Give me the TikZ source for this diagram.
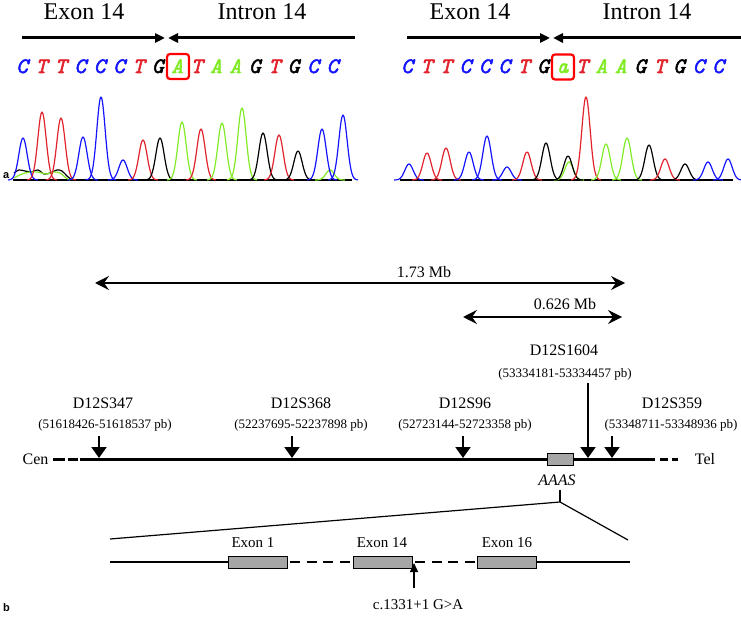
\documentclass[tikz,border=0pt]{standalone}
\usepackage{fontspec}
\setmainfont{Liberation Serif}
\newfontfamily\seqfont{Latin Modern Mono}[FakeBold=2.5]
\newfontfamily\lblfont{Liberation Sans}
\usetikzlibrary{arrows.meta}
\definecolor{sblue}{RGB}{20,20,255}
\definecolor{sred}{RGB}{225,35,45}
\definecolor{sgreen}{RGB}{130,235,40}
\definecolor{boxgray}{RGB}{166,166,166}
\newcommand\chpeak[3]{\pgfmathsetmacro\pka{#2-15}\pgfmathsetmacro\pkb{#2+15}%
  \draw[chrom,#1] plot[domain=\pka:\pkb,samples=31,smooth] (\x,{180-#3*exp(-((\x-#2)/5.9)^2)});}
\begin{document}
\begin{tikzpicture}[x=1pt,y=-1pt,
  hdr/.style={font=\fontsize{24}{24}\selectfont, anchor=base, inner sep=0},
  seq/.style={font=\seqfont\itshape\fontsize{22}{22}\selectfont, anchor=base, inner sep=0},
  brk/.style={line width=3pt, -{Triangle[length=10pt,width=9pt]}},
  chrom/.style={line width=1.2pt, line join=round},
  mutbox/.style={draw=red, line width=2.2pt, rounded corners=3pt, minimum width=22pt, minimum height=25pt, inner sep=0},
  mk/.style={font=\fontsize{16}{16}\selectfont, anchor=base, inner sep=0},
  posl/.style={font=\fontsize{13}{13}\selectfont, anchor=base, inner sep=0},
  spanarr/.style={line width=1.5pt, {Stealth[length=14pt,width=14pt,inset=5pt]}-{Stealth[length=14pt,width=14pt,inset=5pt]}},
  chr/.style={line width=3pt},
  mkarrow/.style={line width=2pt, -{Triangle[length=11pt,width=15pt]}},
  gene/.style={draw, fill=boxgray, line width=1pt},
  zoomline/.style={line width=1.2pt},
  exl/.style={font=\fontsize{15}{15}\selectfont, anchor=base, inner sep=0},
  panel/.style={font=\lblfont\bfseries\fontsize{11}{11}\selectfont, anchor=base west, inner sep=0}]
\useasboundingbox (0,0) rectangle (741,617);

% ---------------- panel a, left ----------------
\node[hdr] (exL) at (84,20) {Exon 14};
\node[hdr] (inL) at (262,20) {Intron 14};
\coordinate (lA) at (22,38); \coordinate (lB) at (165,38);
\coordinate (lC) at (355,38); \coordinate (lD) at (168,38);
\draw[brk] (lA) -- (lB);
\draw[brk] (lC) -- (lD);
\foreach \l/\c [count=\i] in {C/sblue,T/sred,T/sred,C/sblue,C/sblue,C/sblue,T/sred,G/black,A/sgreen,T/sred,A/sgreen,A/sgreen,G/black,T/sred,G/black,C/sblue,C/sblue}{
  \pgfmathsetmacro\xx{22+(\i-1)*19.4}
  \node[seq,text=\c] (sL\i) at (\xx,73) {\l};
}
\node[mutbox] (mL) at (178,66.5) {};
\draw[chrom] (13,180) -- (352,180);
\draw[chrom] plot[smooth] coordinates {(14,173) (19,170) (25,171) (31,172) (38,170) (44,174) (50,173) (57,170) (62,171) (67,176) (72,180)};
\draw[chrom,sgreen] plot[smooth] coordinates {(14,178) (22,174) (30,172) (38,172) (46,174) (54,172) (60,173) (66,178) (70,180)};
\chpeak{sblue}{23}{42}
\chpeak{sred}{42}{68}
\chpeak{sred}{61}{62}
\chpeak{sblue}{83}{43}
\chpeak{sblue}{101}{83}
\chpeak{sblue}{123}{20}
\chpeak{sred}{143}{40}
\chpeak{black}{160}{42}
\chpeak{sgreen}{182}{58}
\chpeak{sred}{201}{51}
\chpeak{sgreen}{222}{57}
\chpeak{sgreen}{242}{72}
\chpeak{black}{263}{47}
\chpeak{sred}{279}{45}
\chpeak{black}{298}{29}
\chpeak{sgreen}{330}{10}
\chpeak{sblue}{322}{51}
\chpeak{sblue}{343}{65}
\node[panel] (pa) at (3,179) {a};

% ---------------- panel a, right ----------------
\node[hdr] (exR) at (470,20) {Exon 14};
\node[hdr] (inR) at (647,20) {Intron 14};
\coordinate (rA) at (407,38); \coordinate (rB) at (550,38);
\coordinate (rC) at (741,38); \coordinate (rD) at (553,38);
\draw[brk] (rA) -- (rB);
\draw[brk] (rC) -- (rD);
\foreach \l/\c [count=\i] in {C/sblue,T/sred,T/sred,C/sblue,C/sblue,C/sblue,T/sred,G/black,a/sgreen,T/sred,A/sgreen,A/sgreen,G/black,T/sred,G/black,C/sblue,C/sblue}{
  \pgfmathsetmacro\xx{407+(\i-1)*19.44}
  \node[seq,text=\c] (sR\i) at (\xx,73) {\l};
}
\node[mutbox] (mR) at (563,67) {};
\draw[chrom] (400,180) -- (733,180);
\chpeak{sblue}{409}{16}
\chpeak{sred}{427}{27}
\chpeak{sred}{446}{32}
\chpeak{sblue}{469}{28}
\chpeak{sblue}{487}{44}
\chpeak{sblue}{507}{13}
\chpeak{sred}{527}{28}
\chpeak{black}{546}{37}
\chpeak{sgreen}{569}{18}
\chpeak{black}{568}{24}
\chpeak{sred}{586}{83}
\chpeak{sgreen}{606}{36}
\chpeak{sgreen}{627}{42}
\chpeak{black}{649}{35}
\chpeak{sred}{665}{21}
\chpeak{black}{685}{16}
\chpeak{sblue}{708}{18}
\chpeak{sblue}{728}{21}

% ---------------- panel b ----------------
\node[mk] (mb1) at (424,278) {1.73 Mb};
\coordinate (s1a) at (95,283); \coordinate (s1b) at (625,283);
\draw[spanarr] (s1a) -- (s1b);
\node[mk] (mb2) at (565,310) {0.626 Mb};
\coordinate (s2a) at (463,317); \coordinate (s2b) at (622,317);
\draw[spanarr] (s2a) -- (s2b);

\node[mk] (m1) at (103,408) {D12S347};
\node[posl] (p1) at (105,428) {(51618426-51618537 pb)};
\node[mk] (m2) at (301,408) {D12S368};
\node[posl] (p2) at (301,428) {(52237695-52237898 pb)};
\node[mk] (m3) at (465,408) {D12S96};
\node[posl] (p3) at (465,428) {(52723144-52723358 pb)};
\node[mk] (m4) at (564,355) {D12S1604};
\node[posl] (p4) at (565,377) {(53334181-53334457 pb)};
\node[mk] (m5) at (672,408) {D12S359};
\node[posl] (p5) at (671,428) {(53348711-53348936 pb)};

\coordinate (c0) at (80,459); \coordinate (c1) at (655,459);
\draw[chr] (c0) -- (c1);
\draw[chr, dash pattern=on 12pt off 3pt] (53,459) -- (78,459);
\draw[chr, dash pattern=on 8pt off 4pt] (660,459) -- (678,459);
\node[mk, anchor=center] (cen) at (35.5,459) {Cen};
\node[mk, anchor=center] (tel) at (705,459) {Tel};

\foreach \xx/\yy [count=\i] in {99/436,292/436,463/436,588/383,612/436}{
  \coordinate (at\i) at (\xx,\yy); \coordinate (ab\i) at (\xx,458);
  \draw[mkarrow] (at\i) -- (ab\i);
}
\node[gene, minimum width=26pt, minimum height=12pt, inner sep=0] (aaasbox) at (560,459) {};
\node[mk, font=\itshape\fontsize{16}{16}\selectfont] (aaas) at (557,485) {AAAS};
\coordinate (tk0) at (560,490); \coordinate (tk1) at (560,502);
\coordinate (zl) at (110,539); \coordinate (zr) at (628,540);
\draw[zoomline] (tk0) -- (tk1);
\draw[zoomline] (zl) -- (tk1) -- (zr);

% gene structure
\draw[chr, line width=2.7pt] (110,562) -- (228,562);
\draw[chr, line width=2.7pt] (536,562) -- (630,562);
\draw[chr, line width=2.7pt, dash pattern=on 10pt off 6.7pt] (290,562) -- (353,562);
\draw[chr, line width=2.7pt, dash pattern=on 10pt off 6.7pt] (415,562) -- (477,562);
\node[gene, minimum width=59pt, minimum height=12pt, inner sep=0] (e1) at (257.5,562) {};
\node[gene, minimum width=59pt, minimum height=12pt, inner sep=0] (e14) at (382.5,562) {};
\node[gene, minimum width=59pt, minimum height=12pt, inner sep=0] (e16) at (506.5,562) {};
\node[exl] (le1) at (253,547) {Exon 1};
\node[exl] (le14) at (382,547) {Exon 14};
\node[exl] (le16) at (507,547) {Exon 16};
\coordinate (mt) at (414,588); \coordinate (mh) at (414,563);
\draw[line width=1.3pt, -{Triangle[length=9pt,width=8pt]}] (mt) -- (mh);
\node[exl] (mut) at (418,609) {c.1331+1 G>A};
\node[panel] (pb) at (3,611) {b};
\end{tikzpicture}
\end{document}
